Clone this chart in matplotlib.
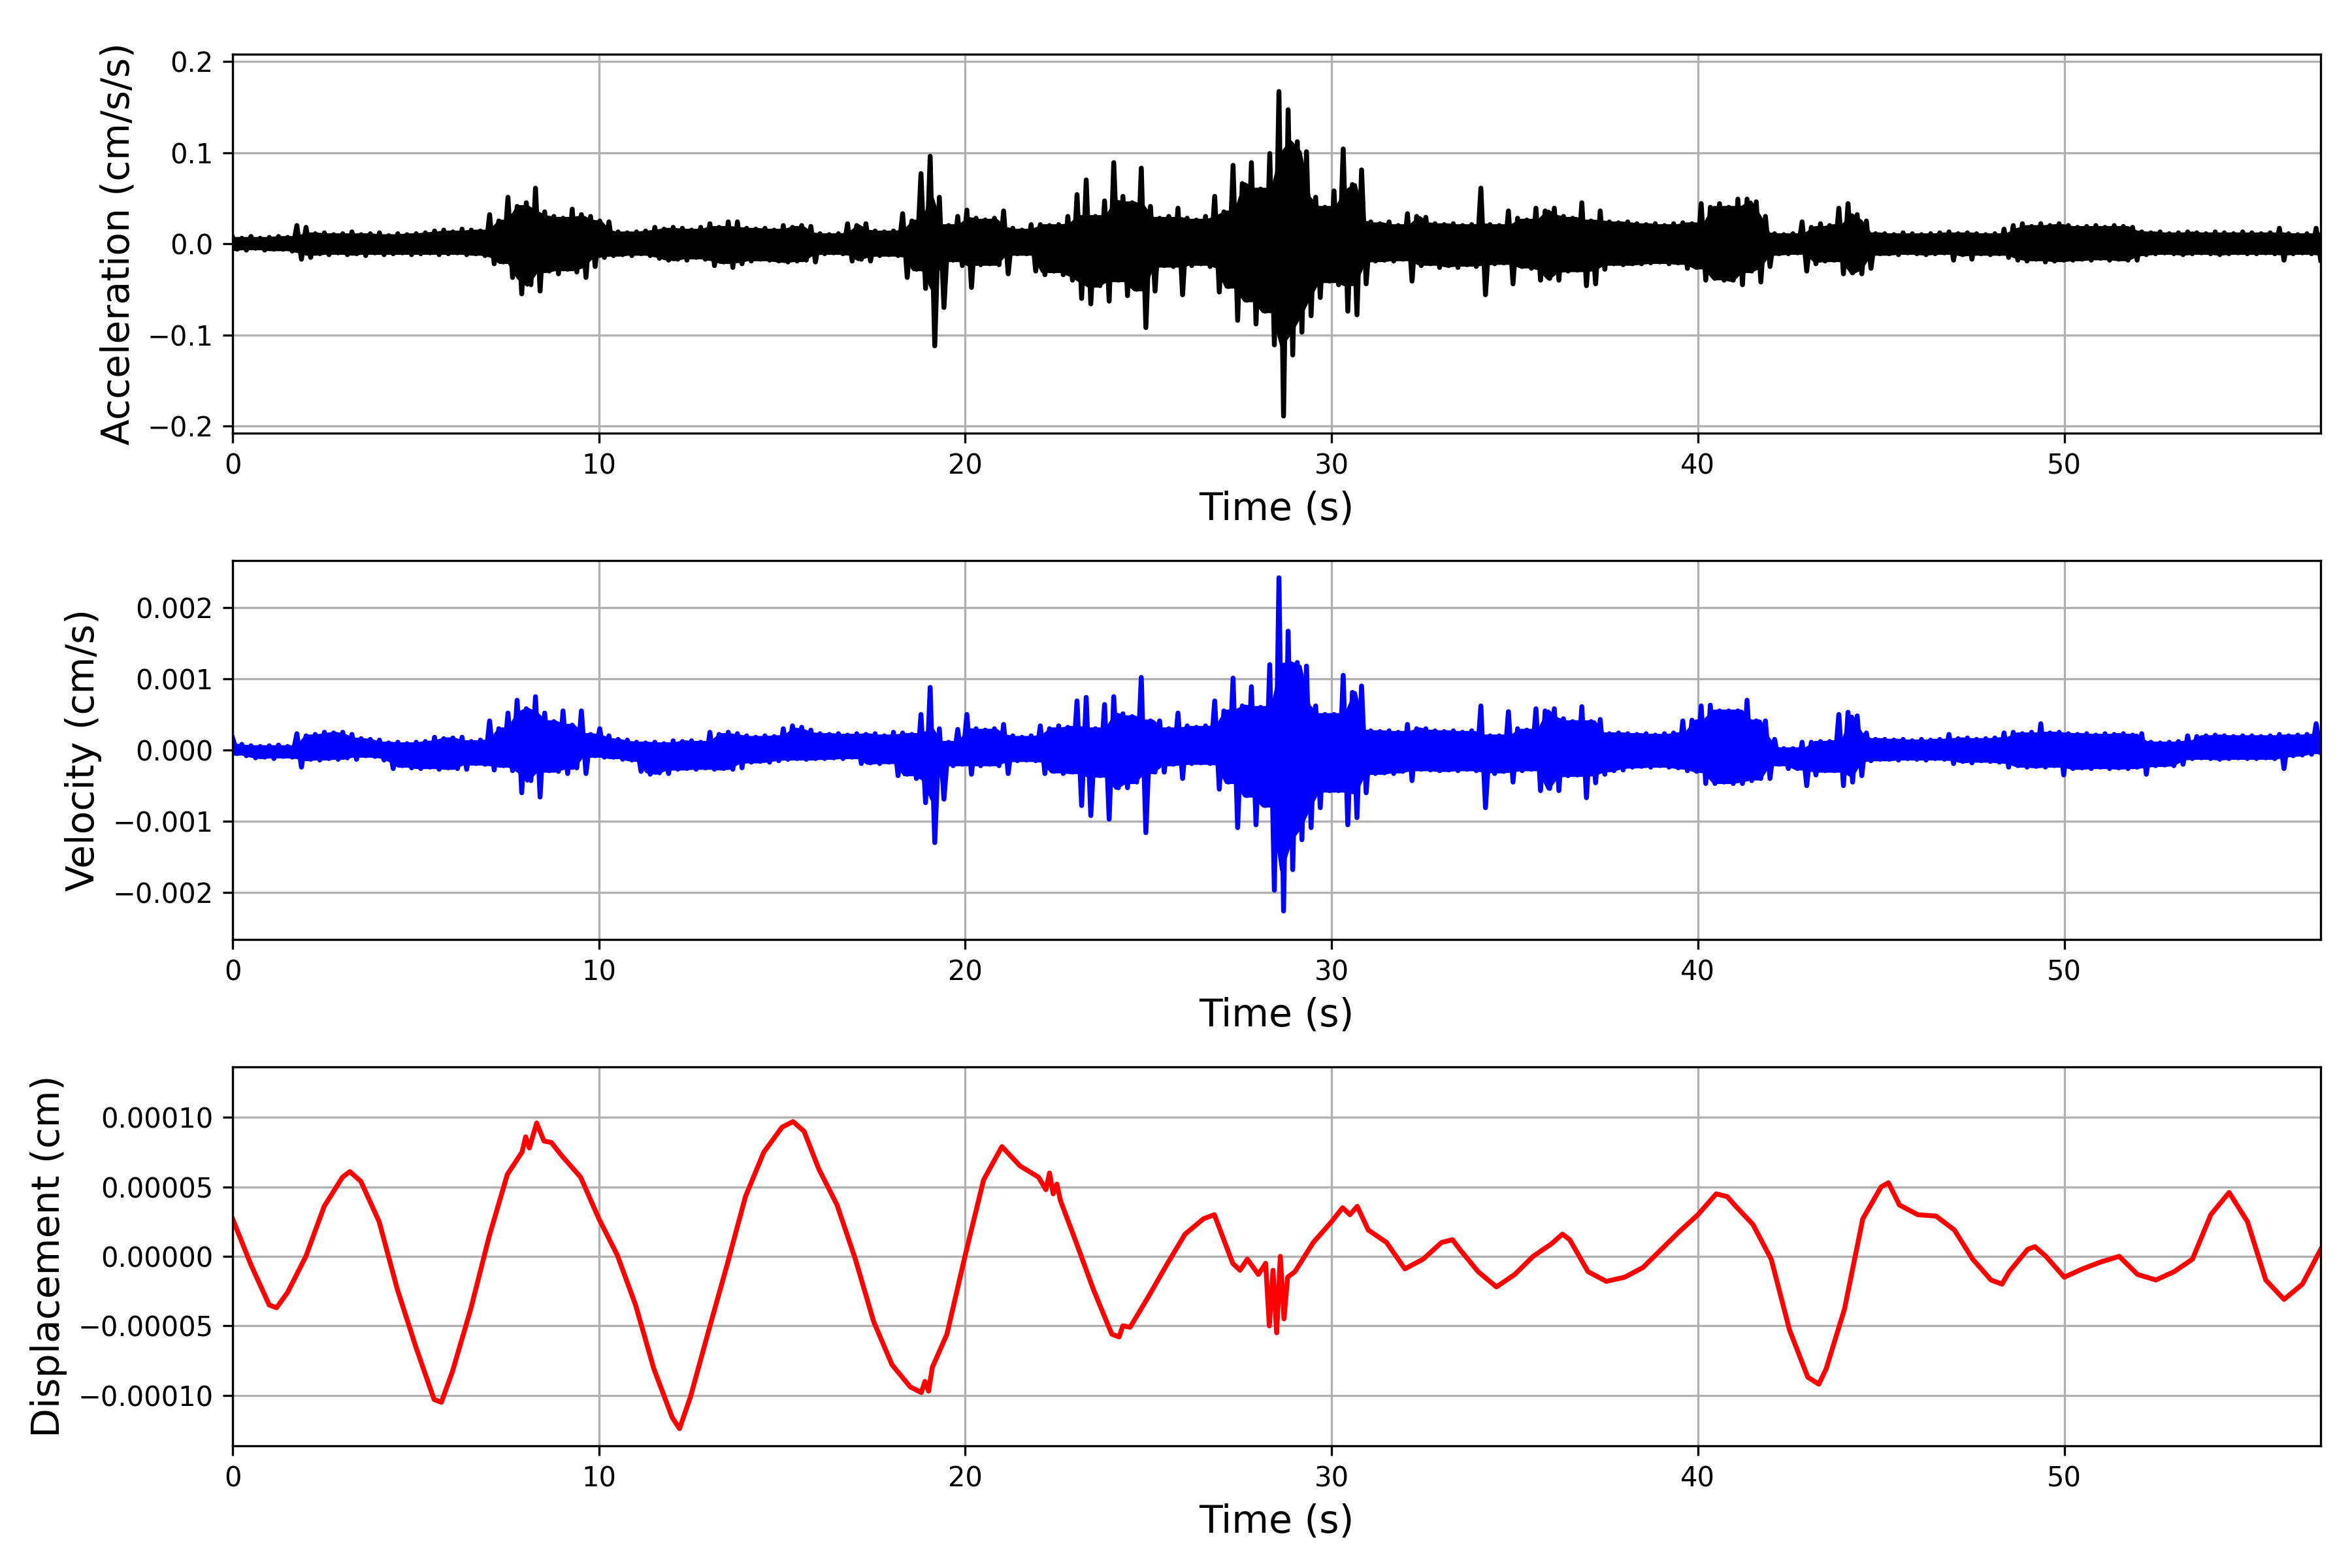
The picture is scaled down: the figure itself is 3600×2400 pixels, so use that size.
import numpy as np
import matplotlib
matplotlib.use('Agg')
import matplotlib.pyplot as plt

t_end = 57.0

# acceleration, upper / lower peak in each 0.25 s window (x 1e-3 cm/s/s)
acc_hi = [7, 6, 8, 6, 7, 8, 7, 20, 18, 11, 12, 10, 11, 13, 10, 11, 12, 9, 11, 10,
          11, 12, 14, 15, 13, 16, 15, 14, 32, 25, 51, 41, 45, 61, 35, 30, 28, 38, 32, 30,
          25, 24, 13, 12, 13, 14, 18, 16, 18, 17, 15, 18, 22, 18, 24, 24, 17, 16, 17, 15,
          20, 18, 20, 19, 11, 10, 11, 22, 20, 22, 14, 13, 14, 33, 25, 77, 96, 51, 20, 30,
          37, 28, 26, 28, 36, 17, 15, 21, 21, 20, 21, 30, 54, 70, 30, 47, 89, 52, 45, 83,
          41, 28, 30, 39, 28, 26, 30, 52, 35, 86, 66, 89, 60, 99, 167, 147, 112, 101, 51, 40,
          58, 104, 65, 81, 24, 22, 24, 20, 33, 30, 29, 22, 21, 22, 20, 21, 61, 21, 20, 36,
          28, 26, 39, 36, 39, 30, 28, 45, 25, 36, 24, 23, 24, 22, 21, 22, 20, 22, 23, 22,
          44, 40, 44, 40, 49, 49, 46, 30, 11, 10, 11, 24, 18, 22, 20, 39, 44, 32, 25, 11,
          11, 10, 12, 11, 10, 11, 12, 13, 11, 12, 11, 10, 11, 16, 20, 22, 19, 22, 20, 22,
          20, 18, 19, 20, 18, 20, 19, 18, 13, 12, 13, 11, 12, 13, 12, 11, 13, 12, 11, 13,
          12, 11, 12, 17, 11, 10, 11, 17]
acc_lo = [-6, -7, -5, -7, -6, -6, -8, -17, -15, -11, -12, -10, -12, -11, -13, -10, -12, -11, -10, -12,
          -11, -10, -12, -11, -10, -12, -11, -13, -22, -20, -37, -55, -45, -52, -30, -33, -28, -31, -37, -25,
          -15, -13, -12, -13, -11, -13, -16, -18, -17, -18, -15, -17, -24, -20, -26, -22, -19, -17, -18, -19,
          -20, -19, -18, -20, -11, -10, -11, -19, -17, -19, -13, -12, -13, -37, -28, -49, -112, -70, -18, -24,
          -48, -23, -22, -23, -33, -11, -11, -30, -34, -30, -34, -40, -60, -66, -46, -63, -40, -57, -50, -92,
          -52, -24, -25, -56, -24, -22, -25, -53, -47, -84, -62, -88, -74, -111, -189, -122, -97, -79, -59, -41,
          -45, -74, -78, -44, -19, -18, -19, -17, -41, -24, -22, -26, -24, -26, -23, -25, -56, -22, -21, -44,
          -25, -27, -40, -38, -40, -30, -29, -46, -44, -28, -22, -23, -22, -22, -21, -20, -22, -21, -27, -26,
          -40, -38, -40, -40, -45, -30, -42, -25, -11, -11, -10, -30, -22, -19, -18, -33, -32, -33, -27, -11,
          -11, -12, -10, -11, -12, -11, -10, -18, -12, -17, -11, -12, -11, -15, -18, -19, -17, -20, -19, -18,
          -18, -17, -18, -16, -18, -17, -18, -18, -12, -11, -10, -11, -12, -11, -10, -11, -12, -11, -10, -11,
          -11, -10, -11, -18, -11, -10, -11, -18]

# velocity, same windows (x 1e-5 cm/s)
vel_hi = [17, 8, 6, 5, 6, 7, 5, 23, 20, 22, 25, 24, 25, 22, 16, 15, 14, 10, 11, 9,
          11, 12, 18, 16, 17, 18, 12, 14, 41, 30, 52, 70, 58, 75, 52, 40, 55, 35, 55, 22,
          30, 20, 15, 14, 11, 10, 11, 9, 13, 12, 13, 11, 25, 22, 25, 23, 20, 18, 20, 19,
          30, 34, 32, 28, 23, 22, 23, 21, 23, 22, 23, 20, 25, 24, 22, 50, 88, 30, 11, 29,
          50, 30, 28, 30, 36, 20, 18, 20, 34, 30, 34, 32, 69, 74, 30, 64, 75, 51, 47, 102,
          41, 41, 30, 52, 34, 32, 34, 69, 55, 101, 62, 89, 60, 120, 242, 167, 123, 118, 62, 50,
          50, 105, 81, 90, 27, 26, 27, 25, 36, 30, 30, 27, 26, 27, 25, 27, 62, 20, 20, 54,
          30, 28, 58, 55, 58, 44, 40, 61, 40, 43, 23, 24, 23, 22, 23, 21, 23, 24, 41, 42,
          62, 63, 55, 55, 55, 70, 41, 41, 15, 2, 2, 11, 11, 12, 12, 50, 53, 48, 24, 15,
          15, 14, 15, 13, 15, 14, 15, 22, 16, 17, 15, 16, 17, 24, 25, 23, 25, 37, 24, 25,
          23, 22, 23, 21, 23, 22, 23, 21, 23, 11, 10, 11, 12, 20, 19, 20, 21, 20, 19, 20,
          20, 19, 20, 22, 20, 21, 22, 37]
vel_lo = [-5, -8, -11, -10, -12, -9, -10, -24, -13, -14, -12, -13, -11, -13, -8, -9, -14, -26, -22, -25,
          -26, -24, -27, -25, -26, -27, -19, -20, -28, -22, -29, -60, -43, -66, -29, -30, -33, -25, -33, -8,
          -10, -10, -13, -14, -30, -34, -32, -33, -27, -26, -27, -25, -27, -26, -27, -25, -17, -16, -17, -15,
          -13, -12, -13, -12, -12, -11, -12, -10, -19, -18, -19, -17, -36, -34, -40, -74, -130, -69, -22, -20,
          -34, -22, -20, -22, -33, -15, -14, -15, -33, -30, -33, -31, -78, -92, -36, -97, -53, -53, -45, -116,
          -31, -31, -20, -40, -19, -18, -19, -55, -45, -109, -64, -105, -78, -197, -226, -168, -126, -109, -81, -57,
          -57, -105, -95, -60, -33, -32, -33, -30, -43, -27, -28, -29, -28, -29, -27, -29, -81, -33, -30, -45,
          -29, -27, -57, -54, -57, -36, -35, -67, -46, -34, -29, -28, -24, -23, -24, -22, -24, -25, -29, -30,
          -47, -47, -45, -47, -47, -43, -40, -40, -20, -26, -26, -50, -35, -29, -29, -50, -45, -36, -15, -13,
          -13, -14, -12, -13, -14, -12, -13, -19, -16, -18, -15, -16, -17, -24, -22, -24, -23, -24, -22, -35,
          -26, -25, -26, -24, -26, -25, -26, -24, -34, -22, -21, -22, -20, -12, -11, -12, -13, -12, -11, -12,
          -12, -11, -12, -26, -8, -7, -6, -3]

# displacement (x 1e-6 cm)
disp_t = [0, 0.5, 1.0, 1.2, 1.5, 2.0, 2.5, 3.0, 3.2, 3.5, 4.0, 4.5, 5.0, 5.5, 5.7, 6.0, 6.5, 7.0,
          7.5, 7.9, 8.0, 8.1, 8.3, 8.5, 8.7, 9.0, 9.5, 10.0, 10.5, 11.0, 11.5, 12.0, 12.2, 12.5,
          13.0, 13.5, 14.0, 14.5, 15.0, 15.3, 15.6, 16.0, 16.5, 17.0, 17.5, 18.0, 18.5, 18.8,
          18.9, 19.0, 19.1, 19.5, 20.0, 20.5, 21.0, 21.5, 22.0, 22.2, 22.3, 22.4, 22.5, 22.6,
          23.0, 23.5, 24.0, 24.2, 24.3, 24.5, 25.0, 25.5, 26.0, 26.5, 26.8, 27.0, 27.3, 27.5,
          27.7, 28.0, 28.2, 28.3, 28.4, 28.5, 28.6, 28.7, 28.8, 29.0, 29.5, 30.0, 30.3, 30.5,
          30.7, 31.0, 31.5, 32.0, 32.5, 33.0, 33.3, 33.5, 34.0, 34.5, 35.0, 35.5, 36.0, 36.3,
          36.5, 37.0, 37.5, 38.0, 38.5, 39.0, 39.5, 40.0, 40.5, 40.8, 41.0, 41.5, 42.0, 42.5,
          43.0, 43.3, 43.5, 44.0, 44.5, 45.0, 45.2, 45.5, 46.0, 46.5, 47.0, 47.5, 48.0, 48.3,
          48.5, 49.0, 49.2, 49.5, 50.0, 50.5, 51.0, 51.5, 52.0, 52.5, 53.0, 53.5, 54.0, 54.5,
          55.0, 55.5, 56.0, 56.5, 57.0]
disp_v = [27, -6, -35, -37, -26, 0, 36, 57, 61, 54, 25, -24, -65, -103, -105, -83, -38, 14,
          59, 75, 86, 78, 96, 83, 82, 72, 57, 27, 1, -35, -81, -116, -124, -101,
          -53, -6, 43, 75, 93, 97, 90, 63, 37, -2, -47, -78, -94, -98,
          -90, -97, -80, -56, 1, 55, 79, 65, 57, 48, 60, 45, 52, 40,
          12, -24, -56, -58, -50, -51, -29, -6, 16, 27, 30, 16, -5, -10,
          -2, -13, -5, -50, -10, -55, 0, -45, -15, -11, 10, 25, 35, 30,
          36, 19, 10, -9, -2, 10, 12, 5, -11, -22, -13, 0, 9, 16,
          12, -11, -18, -15, -8, 5, 18, 30, 45, 43, 37, 23, -2, -53,
          -87, -92, -81, -38, 27, 50, 53, 37, 30, 29, 19, -2, -17, -20,
          -11, 5, 7, 0, -15, -9, -4, 0, -13, -17, -11, -2, 30, 46,
          25, -17, -31, -20, 5]


def zigzag(hi, lo, scale):
    # alternate upper and lower peaks of each window along the time axis
    y = np.empty(2 * len(hi))
    y[0::2] = hi
    y[1::2] = lo
    t = np.linspace(0, t_end, len(y))
    return t, y * scale


def core_band(hi, lo, scale):
    # the densely covered part of the trace: what neighbouring windows share
    hi = np.pad(np.array(hi, float), 1, mode='edge')
    lo = np.pad(np.array(lo, float), 1, mode='edge')
    top = np.minimum.reduce([hi[:-2], hi[1:-1], hi[2:]])
    bot = np.maximum.reduce([lo[:-2], lo[1:-1], lo[2:]])
    t = np.linspace(0, t_end, len(top))
    return t, top * scale, bot * scale


acc_t, acc = zigzag(acc_hi, acc_lo, 1e-3)
vel_t, vel = zigzag(vel_hi, vel_lo, 1e-5)
disp = np.array(disp_v) * 1e-6

fig, axes = plt.subplots(3, 1, figsize=(12, 8))
fig.subplots_adjust(left=0.0989, right=0.9867, top=0.9654, bottom=0.0779, hspace=0.336)

series = [(acc_t, acc, 'k', 'Acceleration (cm/s/s)', (acc_hi, acc_lo, 1e-3)),
          (vel_t, vel, 'b', 'Velocity (cm/s)', (vel_hi, vel_lo, 1e-5)),
          (disp_t, disp, 'r', 'Displacement (cm)', None)]

for ax, (t, y, c, lab, env) in zip(axes, series):
    if env is not None:
        bt, btop, bbot = core_band(*env)
        ax.fill_between(bt, bbot, btop, color=c, linewidth=1.2, edgecolor=c, zorder=2)
    ax.plot(t, y, color=c, linewidth=1.8, zorder=2.1)
    lim = 1.1 * np.max(np.abs(y))
    ax.set_ylim(-lim, lim)
    ax.set_xlim(0, t_end)
    ax.grid(True)
    ax.set_xlabel('Time (s)', fontsize=14)
    ax.set_ylabel(lab, fontsize=14)

fig.savefig('out.png', dpi=300)
